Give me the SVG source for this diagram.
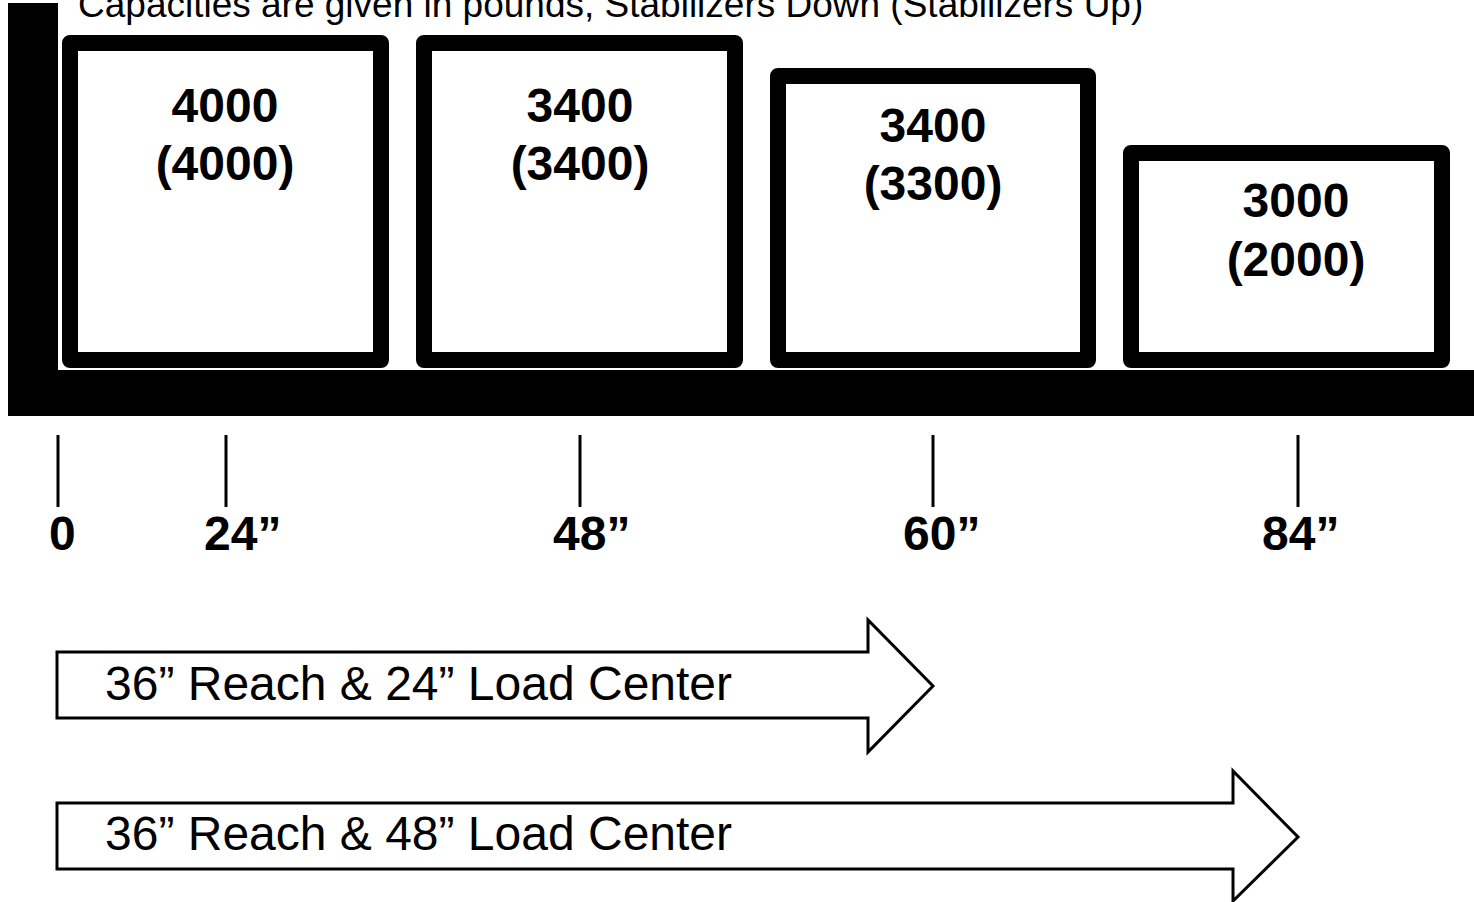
<svg xmlns="http://www.w3.org/2000/svg" width="1474" height="902" viewBox="0 0 1474 902">
<style>
.box{fill:#fff;stroke:#000;stroke-width:16;stroke-linejoin:round}
.num{font-family:"Liberation Sans",Arial,sans-serif;font-weight:bold;font-size:48px;fill:#000;text-anchor:middle}
.tick{stroke:#000;stroke-width:3}
.lbl{font-family:"Liberation Sans",Arial,sans-serif;font-weight:bold;font-size:48px;fill:#000}
.arrow{fill:#fff;stroke:#000;stroke-width:3;stroke-linejoin:miter}
.atxt{font-family:"Liberation Sans",Arial,sans-serif;font-size:48px;fill:#000}
.hdr{font-family:"Liberation Sans",Arial,sans-serif;font-size:37px;fill:#000}
</style>
<rect width="1474" height="902" fill="#fff"/>
<text class="hdr" x="78" y="17">Capacities are given in pounds, Stabilizers Down (Stabilizers Up)</text>
<g id="frame">
<rect x="8" y="3" width="50" height="413" fill="#000"/>
<rect x="8" y="370" width="1466" height="46" fill="#000"/>
</g>
<g id="box1">
<rect class="box" x="70" y="43" width="311" height="317"/>
<text class="num" x="225" y="122">4000</text>
<text class="num" x="225" y="180">(4000)</text>
</g>
<g id="box2">
<rect class="box" x="424" y="43" width="311" height="317"/>
<text class="num" x="580" y="122">3400</text>
<text class="num" x="580" y="180">(3400)</text>
</g>
<g id="box3">
<rect class="box" x="778" y="76" width="310" height="284"/>
<text class="num" x="933" y="142">3400</text>
<text class="num" x="933" y="200">(3300)</text>
</g>
<g id="box4">
<rect class="box" x="1131" y="153" width="311" height="207"/>
<text class="num" x="1296" y="217">3000</text>
<text class="num" x="1296" y="276">(2000)</text>
</g>
<g id="scale">
<line class="tick" x1="58" y1="435" x2="58" y2="507"/>
<line class="tick" x1="226" y1="435" x2="226" y2="507"/>
<line class="tick" x1="580" y1="435" x2="580" y2="507"/>
<line class="tick" x1="933" y1="435" x2="933" y2="507"/>
<line class="tick" x1="1298" y1="435" x2="1298" y2="507"/>
<text class="lbl" x="49" y="550">0</text>
<text class="lbl" x="204" y="550">24”</text>
<text class="lbl" x="553" y="550">48”</text>
<text class="lbl" x="903" y="550">60”</text>
<text class="lbl" x="1262" y="550">84”</text>
</g>
<g id="connectors">
<g id="arrow1">
<polygon class="arrow" points="57,652 868,652 868,620 933,686 868,752 868,718 57,718"/>
<text class="atxt" x="105" y="700">36” Reach &amp; 24” Load Center</text>
</g>
<g id="arrow2">
<polygon class="arrow" points="57,803 1233,803 1233,771 1298,837 1233,901 1233,869 57,869"/>
<text class="atxt" x="105" y="850">36” Reach &amp; 48” Load Center</text>
</g>
</g>
</svg>
